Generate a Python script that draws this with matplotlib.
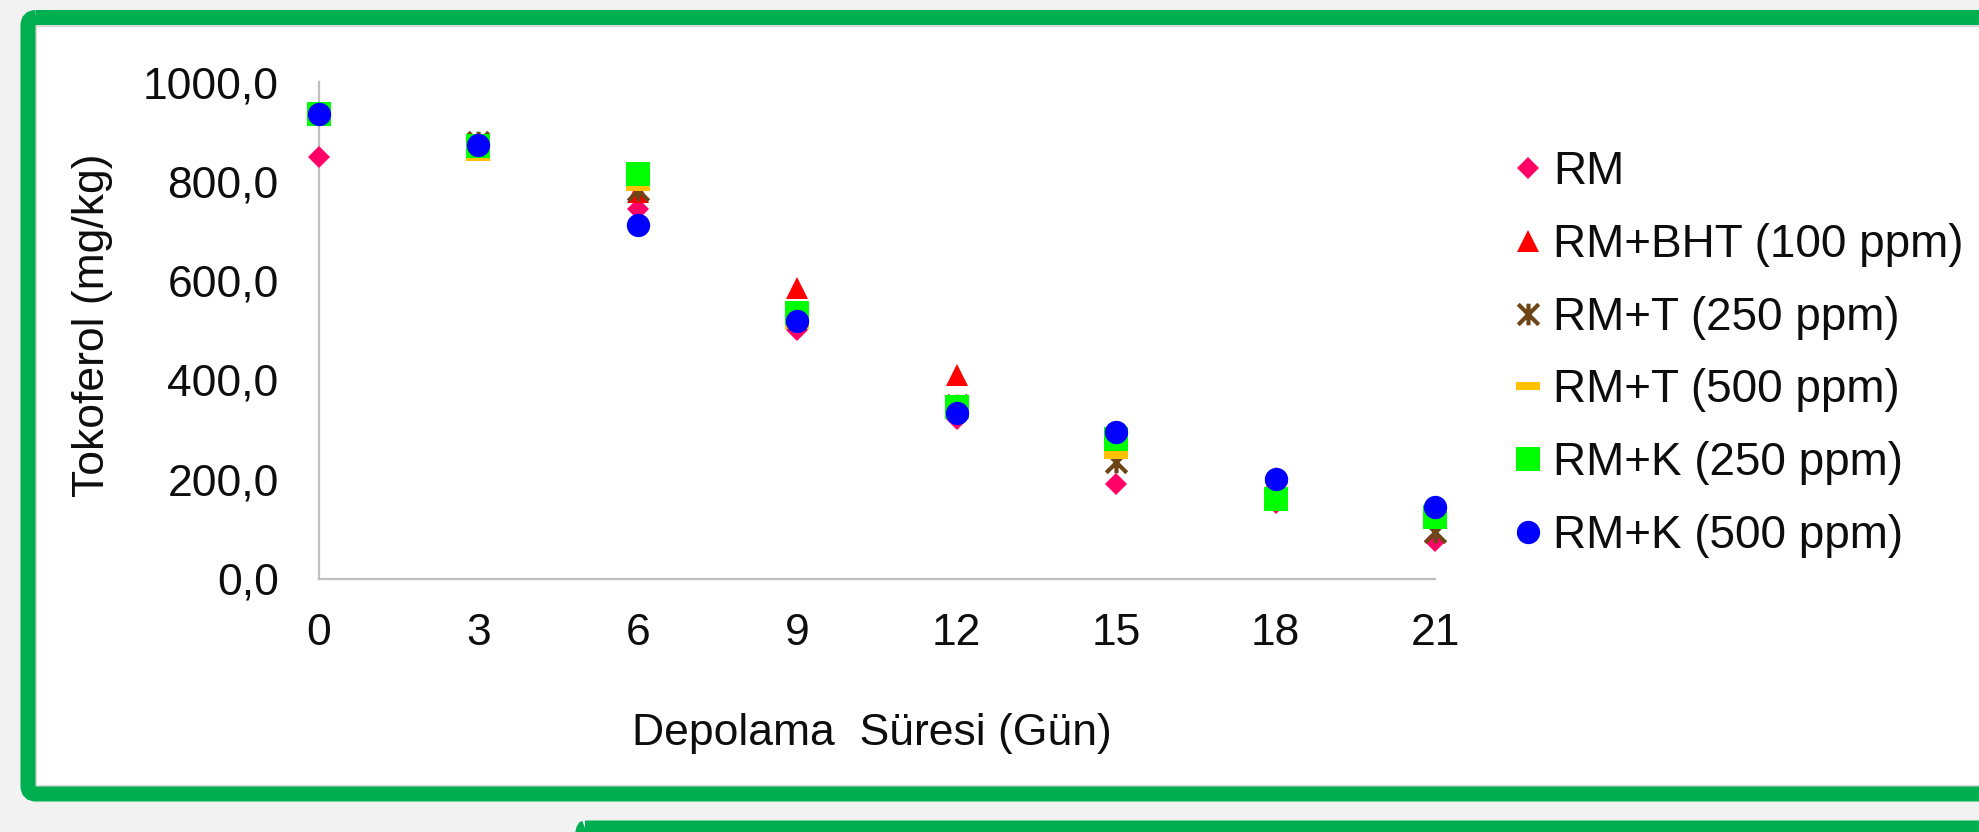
import matplotlib
matplotlib.use("Agg")
import matplotlib.pyplot as plt
from matplotlib.patches import FancyBboxPatch, Rectangle
from matplotlib.path import Path
from matplotlib.lines import Line2D

# ---------------- data ----------------
days = [0, 3, 6, 9, 12, 15, 18, 21]
series_names = ["RM", "RM+BHT (100 ppm)", "RM+T (250 ppm)", "RM+T (500 ppm)",
                "RM+K (250 ppm)", "RM+K (500 ppm)"]
rm = [849, 870, 744, 500, 322, 190, 152, 75]
rm_bht = [935, 875, 778, 585, 410, 288, 203, 130]
rm_t250 = [936, 880, 782, 525, 349, 235, 177, 93]
rm_t500 = [935, 849, 789, 511, 354, 248, 163, 115]
rm_k250 = [935, 871, 814, 534, 346, 280, 160, 123]
rm_k500 = [935, 873, 712, 519, 333, 295, 201, 144]
y_ticks = [0, 200, 400, 600, 800, 1000]
y_tick_labels = ["0,0", "200,0", "400,0", "600,0", "800,0", "1000,0"]
x_ticks = [0, 3, 6, 9, 12, 15, 18, 21]
x_label = "Depolama  Süresi (Gün)"
y_label = "Tokoferol (mg/kg)"

# ---------------- styles ----------------
plt.rcParams['font.family'] = ['Liberation Sans', 'DejaVu Sans']
W, H = 1979, 832
fig = plt.figure(figsize=(W / 100, H / 100), dpi=100)
fig.patch.set_facecolor('#F2F2F2')

star_path = Path([(-1, -1), (1, 1), (-1, 1), (1, -1), (0, -1.05), (0, 1.05)],
                 [Path.MOVETO, Path.LINETO, Path.MOVETO, Path.LINETO, Path.MOVETO, Path.LINETO])
dash_path = Path([(-1, -0.32), (1, -0.32), (1, 0.32), (-1, 0.32), (-1, -0.32)],
                 [Path.MOVETO, Path.LINETO, Path.LINETO, Path.LINETO, Path.CLOSEPOLY])

styles = [
    dict(marker='D', ms=11.2, mfc='#FF0066', mec='none', mew=0),
    dict(marker='^', ms=16.5, mfc='#FF0000', mec='none', mew=0),
    dict(marker=star_path, ms=15.5, mfc='none', mec='#6E4516', mew=3.0),
    dict(marker=dash_path, ms=17.3, mfc='#FFC000', mec='none', mew=0),
    dict(marker='s', ms=17.0, mfc='#00FF00', mec='none', mew=0),
    dict(marker='o', ms=16.8, mfc='#0000FF', mec='none', mew=0),
]
all_series = [rm, rm_bht, rm_t250, rm_t500, rm_k250, rm_k500]

# ---------------- background frame ----------------
bg = fig.add_axes([0, 0, 1, 1], zorder=0)
bg.set_xlim(0, W)
bg.set_ylim(H, 0)
bg.axis('off')
bg.add_patch(Rectangle((36, 25.5), 2100, 760, facecolor='white',
                       edgecolor='#D9D9D9', linewidth=1.5))
bg.add_patch(FancyBboxPatch((28, 17.5), 2100, 776.5,
                            boxstyle="round,pad=0,rounding_size=8",
                            facecolor='none', edgecolor='#00B050', linewidth=10.8))
bg.add_patch(FancyBboxPatch((577, 828), 2100, 200,
                            boxstyle="round,pad=0,rounding_size=8",
                            facecolor='none', edgecolor='#00B050', linewidth=10.8))

# ---------------- main axes ----------------
ax = fig.add_axes([319 / W, 1 - 578.5 / H, (1435 - 319) / W, (578.5 - 82) / H], zorder=1)
ax.set_facecolor('none')
for name, vals, st in zip(series_names, all_series, styles):
    ax.plot(days, vals, linestyle='none', clip_on=False, zorder=3, label=name, **st)

ax.set_xlim(0, 21)
ax.set_ylim(0, 1000)
ax.set_xticks(x_ticks)
ax.set_xticklabels([str(t) for t in x_ticks])
ax.set_yticks(y_ticks)
ax.set_yticklabels(y_tick_labels)
for s in ['top', 'right']:
    ax.spines[s].set_visible(False)
for s in ['left', 'bottom']:
    ax.spines[s].set_color('#BFBFBF')
    ax.spines[s].set_linewidth(1.6)
ax.tick_params(axis='both', length=0, labelsize=32, colors='#0D0D0D')
ax.tick_params(axis='y', pad=29)
ax.tick_params(axis='x', pad=25)

ax.set_xlabel(x_label, fontsize=32, color='#0D0D0D')
ax.xaxis.set_label_coords(0.495, -0.27)
ax.set_ylabel(y_label, fontsize=32, color='#0D0D0D')
ax.yaxis.set_label_coords(-0.185, 0.51)

# ---------------- legend ----------------
handles = [Line2D([], [], linestyle='none', **st) for st in styles]
fig.legend(handles, series_names, loc='center left',
           bbox_to_anchor=(1505 / W, 1 - 354 / H), frameon=False,
           borderpad=0, borderaxespad=0, handlelength=1.0, handletextpad=0.05,
           labelspacing=0.63, fontsize=33, numpoints=1, labelcolor='#0D0D0D')

fig.savefig('out.png', dpi=100, facecolor=fig.get_facecolor())
